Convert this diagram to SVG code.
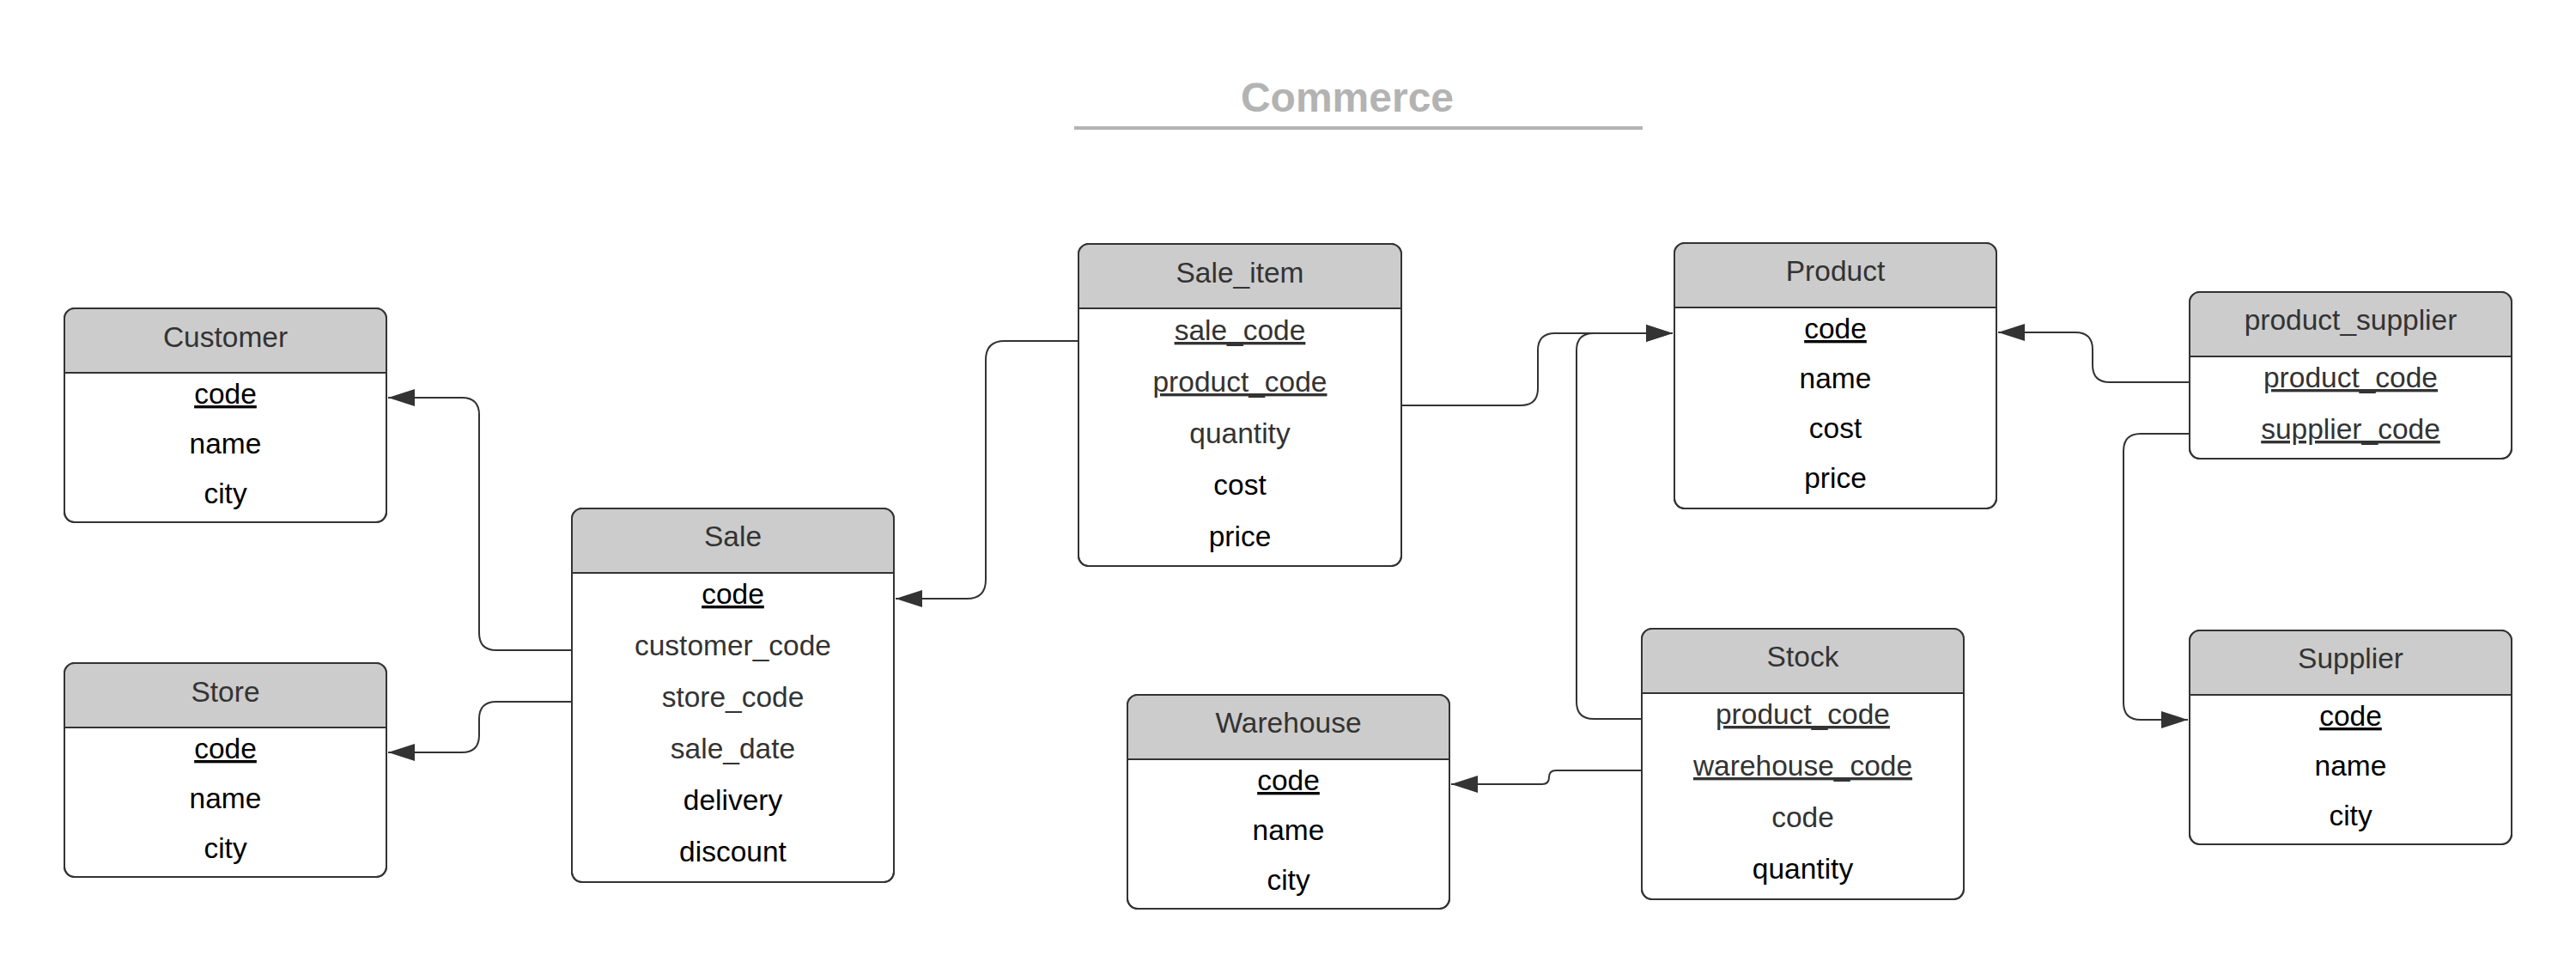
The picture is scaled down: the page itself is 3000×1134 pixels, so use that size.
<svg xmlns="http://www.w3.org/2000/svg" width="3000" height="1134" viewBox="0 0 3000 1134">
<style>
.box{fill:#ffffff;stroke:#333333;stroke-width:2}
.outline{fill:none;stroke:#333333;stroke-width:2}
.hdr{fill:#cccccc;stroke:none}
.sep{stroke:#333333;stroke-width:2}
text{font-family:"Liberation Sans",Arial,sans-serif;font-size:33.5px;text-anchor:middle}
.ht{fill:#333333}
.a{fill:#000000}
.g{fill:#333333}
.u{text-decoration:underline}
.title{font-size:48px;font-weight:bold;fill:#b3b3b3}
.conn{fill:none;stroke:#333333;stroke-width:2;marker-end:url(#arrow)}
</style>
<defs>
<marker id="arrow" markerUnits="userSpaceOnUse" markerWidth="31" markerHeight="21" refX="31" refY="10" orient="auto">
<path d="M0,0 L31,10 L0,20 Z" fill="#333333"/>
</marker>
</defs>
<rect width="3000" height="1134" fill="#ffffff"/>
<g id="title">
<text class="title" x="1569" y="130">Commerce</text>
<line x1="1251" y1="149" x2="1913" y2="149" stroke="#b3b3b3" stroke-width="4"/>
</g>

<g id="connectors">
<path class="conn" d="M666,757 H578 Q558,757 558,737 V483 Q558,463 538,463 H452"/>
<path class="conn" d="M666,817 H578 Q558,817 558,837 V856 Q558,876 538,876 H452"/>
<path class="conn" d="M1256,397 H1170 Q1148,397 1148,419 V675 Q1148,697 1126,697 H1043"/>
<path class="conn" d="M1632,472 H1771 Q1791,472 1791,452 V408 Q1791,388 1811,388 H1948"/>
<path class="conn" d="M1912,837 H1856 Q1836,837 1836,817 V408 Q1836,388 1856,388 H1948"/>
<path class="conn" d="M1912,897 H1812 Q1804,897 1804,905 Q1804,913 1796,913 H1690"/>
<path class="conn" d="M2550,445 H2457 Q2437,445 2437,425 V407 Q2437,387 2417,387 H2327"/>
<path class="conn" d="M2550,505 H2493 Q2473,505 2473,525 V818 Q2473,838 2493,838 H2548"/>
</g>

<g id="customer">
<rect class="box" x="75" y="359" width="375" height="249" rx="12"/>
<path class="hdr" d="M75,434 V371 Q75,359 87,359 H438 Q450,359 450,371 V434 Z"/>
<line class="sep" x1="75" y1="434" x2="450" y2="434"/>
<rect class="outline" x="75" y="359" width="375" height="249" rx="12"/>
<text class="ht" x="262.5" y="404">Customer</text>
<text class="a u" x="262.5" y="470">code</text>
<text class="a" x="262.5" y="528">name</text>
<text class="a" x="262.5" y="586">city</text>
</g>

<g id="store">
<rect class="box" x="75" y="772" width="375" height="249" rx="12"/>
<path class="hdr" d="M75,847 V784 Q75,772 87,772 H438 Q450,772 450,784 V847 Z"/>
<line class="sep" x1="75" y1="847" x2="450" y2="847"/>
<rect class="outline" x="75" y="772" width="375" height="249" rx="12"/>
<text class="ht" x="262.5" y="817">Store</text>
<text class="a u" x="262.5" y="883">code</text>
<text class="a" x="262.5" y="941">name</text>
<text class="a" x="262.5" y="999">city</text>
</g>

<g id="sale">
<rect class="box" x="666" y="592" width="375" height="435" rx="12"/>
<path class="hdr" d="M666,667 V604 Q666,592 678,592 H1029 Q1041,592 1041,604 V667 Z"/>
<line class="sep" x1="666" y1="667" x2="1041" y2="667"/>
<rect class="outline" x="666" y="592" width="375" height="435" rx="12"/>
<text class="ht" x="853.5" y="636">Sale</text>
<text class="a u" x="853.5" y="703">code</text>
<text class="g" x="853.5" y="763">customer_code</text>
<text class="g" x="853.5" y="823">store_code</text>
<text class="g" x="853.5" y="883">sale_date</text>
<text class="a" x="853.5" y="943">delivery</text>
<text class="a" x="853.5" y="1003">discount</text>
</g>

<g id="sale_item">
<rect class="box" x="1256" y="284" width="376" height="375" rx="12"/>
<path class="hdr" d="M1256,359 V296 Q1256,284 1268,284 H1620 Q1632,284 1632,296 V359 Z"/>
<line class="sep" x1="1256" y1="359" x2="1632" y2="359"/>
<rect class="outline" x="1256" y="284" width="376" height="375" rx="12"/>
<text class="ht" x="1444" y="329">Sale_item</text>
<text class="g u" x="1444" y="396">sale_code</text>
<text class="g u" x="1444" y="456">product_code</text>
<text class="g" x="1444" y="516">quantity</text>
<text class="a" x="1444" y="576">cost</text>
<text class="a" x="1444" y="636">price</text>
</g>

<g id="product">
<rect class="box" x="1950" y="283" width="375" height="309" rx="12"/>
<path class="hdr" d="M1950,358 V295 Q1950,283 1962,283 H2313 Q2325,283 2325,295 V358 Z"/>
<line class="sep" x1="1950" y1="358" x2="2325" y2="358"/>
<rect class="outline" x="1950" y="283" width="375" height="309" rx="12"/>
<text class="ht" x="2137.5" y="327">Product</text>
<text class="a u" x="2137.5" y="394">code</text>
<text class="a" x="2137.5" y="452">name</text>
<text class="a" x="2137.5" y="510">cost</text>
<text class="a" x="2137.5" y="568">price</text>
</g>

<g id="product_supplier">
<rect class="box" x="2550" y="340" width="375" height="194" rx="12"/>
<path class="hdr" d="M2550,415 V352 Q2550,340 2562,340 H2913 Q2925,340 2925,352 V415 Z"/>
<line class="sep" x1="2550" y1="415" x2="2925" y2="415"/>
<rect class="outline" x="2550" y="340" width="375" height="194" rx="12"/>
<text class="ht" x="2737.5" y="384">product_supplier</text>
<text class="g u" x="2737.5" y="451">product_code</text>
<text class="g u" x="2737.5" y="511">supplier_code</text>
</g>

<g id="supplier">
<rect class="box" x="2550" y="734" width="375" height="249" rx="12"/>
<path class="hdr" d="M2550,809 V746 Q2550,734 2562,734 H2913 Q2925,734 2925,746 V809 Z"/>
<line class="sep" x1="2550" y1="809" x2="2925" y2="809"/>
<rect class="outline" x="2550" y="734" width="375" height="249" rx="12"/>
<text class="ht" x="2737.5" y="778">Supplier</text>
<text class="a u" x="2737.5" y="845">code</text>
<text class="a" x="2737.5" y="903">name</text>
<text class="a" x="2737.5" y="961">city</text>
</g>

<g id="warehouse">
<rect class="box" x="1313" y="809" width="375" height="249" rx="12"/>
<path class="hdr" d="M1313,884 V821 Q1313,809 1325,809 H1676 Q1688,809 1688,821 V884 Z"/>
<line class="sep" x1="1313" y1="884" x2="1688" y2="884"/>
<rect class="outline" x="1313" y="809" width="375" height="249" rx="12"/>
<text class="ht" x="1500.5" y="853">Warehouse</text>
<text class="a u" x="1500.5" y="920">code</text>
<text class="a" x="1500.5" y="978">name</text>
<text class="a" x="1500.5" y="1036">city</text>
</g>

<g id="stock">
<rect class="box" x="1912" y="732" width="375" height="315" rx="12"/>
<path class="hdr" d="M1912,807 V744 Q1912,732 1924,732 H2275 Q2287,732 2287,744 V807 Z"/>
<line class="sep" x1="1912" y1="807" x2="2287" y2="807"/>
<rect class="outline" x="1912" y="732" width="375" height="315" rx="12"/>
<text class="ht" x="2099.5" y="776">Stock</text>
<text class="g u" x="2099.5" y="843">product_code</text>
<text class="g u" x="2099.5" y="903">warehouse_code</text>
<text class="g" x="2099.5" y="963">code</text>
<text class="a" x="2099.5" y="1023">quantity</text>
</g>
</svg>
